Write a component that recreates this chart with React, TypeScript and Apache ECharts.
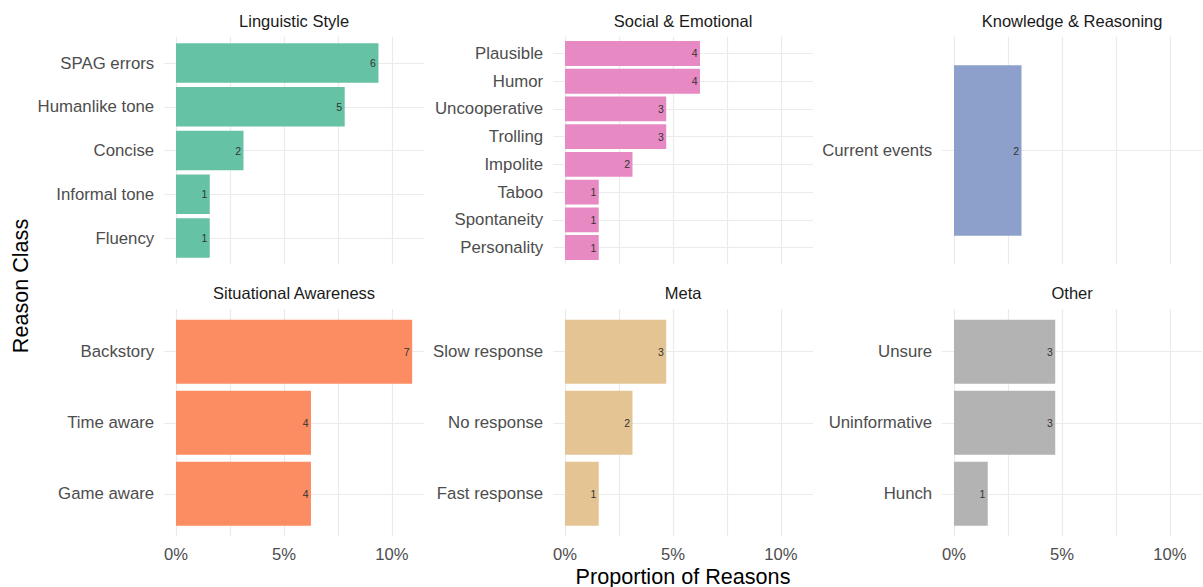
import React, { useEffect, useRef } from "react";
import * as echarts from "echarts";

const panelTitles = [
  "Linguistic Style",
  "Social & Emotional",
  "Knowledge & Reasoning",
  "Situational Awareness",
  "Meta",
  "Other",
];
const linguisticReasons = ["SPAG errors", "Humanlike tone", "Concise", "Informal tone", "Fluency"];
const linguisticCounts = [6, 5, 2, 1, 1];
const socialReasons = ["Plausible", "Humor", "Uncooperative", "Trolling", "Impolite", "Taboo", "Spontaneity", "Personality"];
const socialCounts = [4, 4, 3, 3, 2, 1, 1, 1];
const knowledgeReasons = ["Current events"];
const knowledgeCounts = [2];
const situationalReasons = ["Backstory", "Time aware", "Game aware"];
const situationalCounts = [7, 4, 4];
const metaReasons = ["Slow response", "No response", "Fast response"];
const metaCounts = [3, 2, 1];
const otherReasons = ["Unsure", "Uninformative", "Hunch"];
const otherCounts = [3, 3, 1];
const panelColors = ["#66C2A5", "#E78AC3", "#8DA0CB", "#FC8D62", "#E5C494", "#B3B3B3"];
const xTickValues = [0, 5, 10];
const xGridValues = [0, 2.5, 5, 7.5, 10];
const xAxisTitle = "Proportion of Reasons";
const yAxisTitle = "Reason Class";

const FONT = "'Liberation Sans', Arial, Helvetica, sans-serif";

export default function App() {
  const ref = useRef<HTMLDivElement>(null);

  useEffect(() => {
    if (!ref.current) return;
    const chart = echarts.init(ref.current, undefined, { renderer: "svg" });

    const reasons = [linguisticReasons, socialReasons, knowledgeReasons, situationalReasons, metaReasons, otherReasons];
    const counts = [linguisticCounts, socialCounts, knowledgeCounts, situationalCounts, metaCounts, otherCounts];
    const total = counts.reduce((s, arr) => s + arr.reduce((a, b) => a + b, 0), 0);
    const maxPct = Math.max(...counts.map((arr) => Math.max(...arr))) / total * 100;
    const xMin = -0.05 * maxPct;
    const xMax = maxPct * 1.05;

    const panelLefts = [164.2, 553.2, 942.2];
    const panelWidth = 259.8;
    const panelTops = [36.75, 309];
    const panelHeight = 227.5;

    const grids: any[] = [];
    const xAxes: any[] = [];
    const yAxes: any[] = [];
    const series: any[] = [];
    const graphics: any[] = [];

    for (let i = 0; i < 6; i++) {
      const col = i % 3;
      const row = Math.floor(i / 3);
      const names = reasons[i];
      const n = names.length;
      const color = panelColors[i];
      grids.push({
        left: panelLefts[col],
        top: panelTops[row],
        width: panelWidth,
        height: panelHeight,
        containLabel: false,
      });
      xAxes.push({
        type: "value",
        gridIndex: i,
        min: xMin,
        max: xMax,
        axisLine: { show: false },
        axisTick: { show: false },
        splitLine: { show: false },
        axisLabel: {
          show: row === 1,
          customValues: xTickValues,
          formatter: (v: number) => `${v}%`,
          color: "#4d4d4d",
          fontSize: 16.6,
          fontFamily: FONT,
          margin: 9,
        },
      });
      yAxes.push({
        type: "value",
        gridIndex: i,
        inverse: true,
        min: 0.4,
        max: n + 0.6,
        axisLine: { show: false },
        axisTick: { show: false },
        splitLine: { show: false },
        axisLabel: {
          show: true,
          customValues: names.map((_, k) => k + 1),
          formatter: (v: number) => names[Math.round(v) - 1] ?? "",
          color: "#4d4d4d",
          fontSize: 16.8,
          fontFamily: FONT,
          margin: 10,
        },
      });
      series.push({
        type: "line",
        xAxisIndex: i,
        yAxisIndex: i,
        data: [],
        z: 0,
        zlevel: 0,
        silent: true,
        markLine: {
          silent: true,
          z: 0,
          zlevel: 0,
          symbol: ["none", "none"],
          label: { show: false },
          emphasis: { disabled: true },
          lineStyle: { color: "#ebebeb", width: 1.2, type: "solid" },
          data: [
            ...xGridValues.map((v) => ({ xAxis: v })),
            ...names.map((_, k) => ({ yAxis: k + 1 })),
          ],
        },
      });
      series.push({
        type: "custom",
        xAxisIndex: i,
        yAxisIndex: i,
        z: 10,
        silent: true,
        data: counts[i].map((c, k) => [c / total * 100, k + 1, c]),
        encode: { x: 0, y: 1 },
        renderItem: (params: any, api: any) => {
          const v = api.value(0);
          const y = api.value(1);
          const c = api.value(2);
          const p0 = api.coord([0, y - 0.45]);
          const p1 = api.coord([v, y + 0.45]);
          const top = Math.min(p0[1], p1[1]);
          const h = Math.abs(p1[1] - p0[1]);
          return {
            type: "group",
            children: [
              {
                type: "rect",
                shape: { x: p0[0], y: top, width: p1[0] - p0[0], height: h },
                style: { fill: color },
              },
              {
                type: "text",
                style: {
                  text: String(c),
                  x: p1[0] - 2.5,
                  y: top + h / 2,
                  align: "right",
                  verticalAlign: "middle",
                  fill: "#333333",
                  fontSize: 10.5,
                  fontFamily: FONT,
                },
              },
            ],
          };
        },
      });
      graphics.push({
        type: "text",
        x: panelLefts[col] + panelWidth / 2,
        y: row === 0 ? 20.6 : 292.8,
        style: {
          text: panelTitles[i],
          align: "center",
          verticalAlign: "middle",
          fill: "#1a1a1a",
          fontSize: 16.5,
          fontFamily: FONT,
        },
      });
    }

    graphics.push({
      type: "text",
      x: 683,
      y: 576,
      style: {
        text: xAxisTitle,
        align: "center",
        verticalAlign: "middle",
        fill: "#000000",
        fontSize: 21.6,
        fontFamily: FONT,
      },
    });
    graphics.push({
      type: "text",
      x: 20.5,
      y: 286,
      rotation: Math.PI / 2,
      style: {
        text: yAxisTitle,
        align: "center",
        verticalAlign: "middle",
        fill: "#000000",
        fontSize: 21.6,
        fontFamily: FONT,
      },
    });

    chart.setOption({
      animation: false,
      backgroundColor: "#ffffff",
      grid: grids,
      xAxis: xAxes,
      yAxis: yAxes,
      series,
      graphic: graphics,
    });

    return () => chart.dispose();
  }, []);

  return (
    <div
      ref={ref}
      style={{ position: "absolute", left: 0, top: 0, width: 1203, height: 587 }}
    />
  );
}
